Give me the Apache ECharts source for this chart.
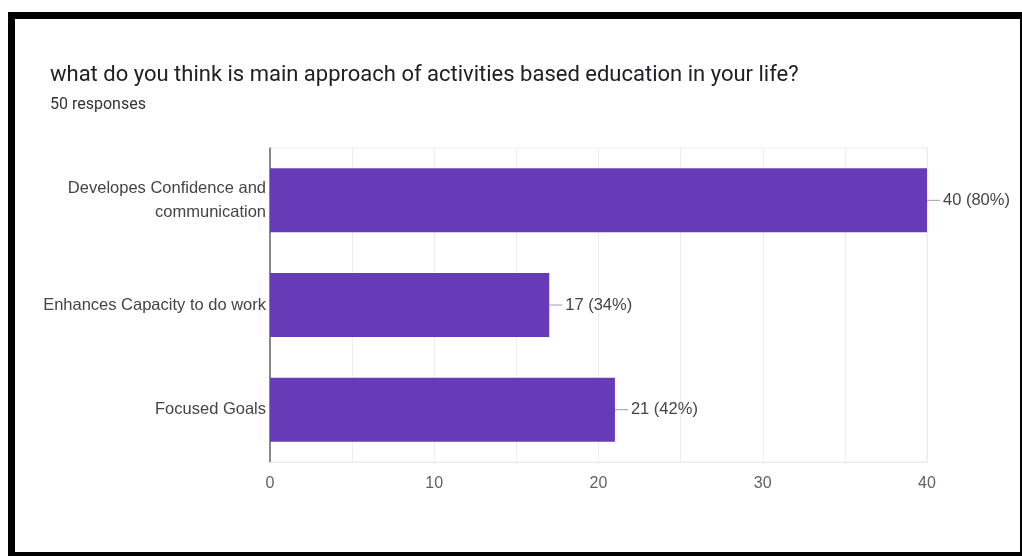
<!DOCTYPE html>
<html>
<head>
<meta charset="utf-8">
<script src="https://cdn.jsdelivr.net/npm/echarts@6/dist/echarts.min.js"></script>
<style>
  html, body { margin: 0; padding: 0; background: #fff; }
  #chart { width: 1022px; height: 556px; }
</style>
</head>
<body>
<div id="chart"></div>
<script>
// Survey question and answer counts
const questionTitle = 'what do you think is main approach of activities based education in your life?';
const totalResponses = 50;
const categories = [
  'Developes Confidence and\ncommunication',
  'Enhances Capacity to do work',
  'Focused Goals'
];
const counts = [40, 17, 21];
const xTicks = [0, 10, 20, 30, 40];

const sansFont = "'Liberation Sans', Arial, sans-serif";

const chart = echarts.init(document.getElementById('chart'), null, { renderer: 'canvas' });

chart.setOption({
  backgroundColor: '#ffffff',
  animation: false,
  title: [
    {
      text: questionTitle,
      left: 45,
      top: 59,
      textStyle: { fontFamily: 'Roboto', fontSize: 22, fontWeight: 'normal', color: '#202124' }
    },
    {
      text: totalResponses + ' responses',
      left: 45,
      top: 92,
      textStyle: { fontFamily: 'Roboto', fontSize: 16, fontWeight: 'normal', color: '#333' }
    }
  ],
  graphic: [
    // dark frame around the card
    { type: 'rect', shape: { x: 8, y: 12, width: 1014, height: 7 }, style: { fill: '#000' } },
    { type: 'rect', shape: { x: 8, y: 12, width: 7, height: 544 }, style: { fill: '#000' } },
    { type: 'rect', shape: { x: 8, y: 552, width: 1014, height: 4 }, style: { fill: '#000' } },
    { type: 'rect', shape: { x: 1020, y: 12, width: 2, height: 544 }, style: { fill: '#000' } }
  ],
  grid: {
    left: 270,
    right: 95,
    top: 148,
    bottom: 94,
    show: true,
    borderColor: '#ececec',
    borderWidth: 1
  },
  xAxis: {
    type: 'value',
    min: 0,
    max: 40,
    interval: 5,
    axisLine: { show: true, lineStyle: { color: '#ececec' } },
    axisTick: { show: false },
    splitLine: { show: true, lineStyle: { color: '#ececec', width: 1 } },
    axisLabel: {
      margin: 14,
      fontFamily: sansFont,
      fontSize: 16,
      color: '#5f6368',
      formatter: v => (xTicks.indexOf(v) >= 0 ? String(v) : '')
    }
  },
  yAxis: {
    type: 'category',
    data: categories,
    inverse: true,
    axisLine: { show: true, lineStyle: { color: '#666', width: 1.5 } },
    axisTick: { show: false },
    splitLine: { show: false },
    axisLabel: {
      margin: 4,
      fontFamily: sansFont,
      fontSize: 16.5,
      lineHeight: 24,
      padding: [3, 0, 0, 0],
      color: '#444',
      align: 'right'
    }
  },
  series: [
    {
      type: 'bar',
      data: counts,
      barWidth: 64,
      itemStyle: { color: '#673ab7' },
      label: {
        show: true,
        position: 'right',
        distance: 0,
        formatter: p => '{ln|}{t|' + p.value + ' (' + Math.round(p.value / totalResponses * 100) + '%)}',
        rich: {
          ln: { width: 13, height: 1, backgroundColor: '#9e9e9e' },
          t: { fontFamily: sansFont, fontSize: 16.5, color: '#444', padding: [0, 0, 0, 3] }
        }
      }
    }
  ]
});
</script>
</body>
</html>
